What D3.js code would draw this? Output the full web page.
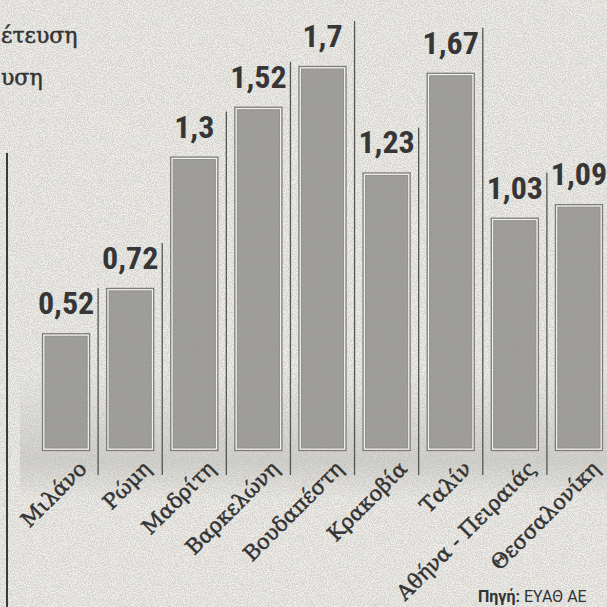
<!DOCTYPE html>
<html>
<head>
<meta charset="utf-8">
<script src="https://cdn.jsdelivr.net/npm/d3@7/dist/d3.min.js"></script>
<style>
  html, body { margin: 0; padding: 0; background: #ebeae5; }
  svg { display: block; }
</style>
</head>
<body>
<svg id="chart" width="607" height="607"></svg>
<script>
const categories = ["Μιλάνο", "Ρώμη", "Μαδρίτη", "Βαρκελώνη", "Βουδαπέστη", "Κρακοβία", "Ταλίν", "Αθήνα - Πειραιάς", "Θεσσαλονίκη"];
const values = [0.52, 0.72, 1.3, 1.52, 1.7, 1.23, 1.67, 1.03, 1.09];
const valueLabels = ["0,52", "0,72", "1,3", "1,52", "1,7", "1,23", "1,67", "1,03", "1,09"];
const titleLines = ["έτευση", "υση"];
const sourceBold = "Πηγή:";
const sourceText = " ΕΥΑΘ ΑΕ";

const W = 607, H = 607;
const svg = d3.select("#chart");
const defs = svg.append("defs");

// speckled paper texture
const f = defs.append("filter").attr("id", "speckle").attr("x", 0).attr("y", 0).attr("width", "100%").attr("height", "100%");
f.append("feTurbulence").attr("type", "fractalNoise").attr("baseFrequency", 0.95).attr("numOctaves", 1).attr("seed", 3).attr("result", "n");
f.append("feColorMatrix").attr("in", "n").attr("type", "matrix")
  .attr("values", "0 0 0 0 0.45  0 0 0 0 0.45  0 0 0 0 0.44  0 0 0 -12 6.6");
const f2 = defs.append("filter").attr("id", "grain").attr("x", 0).attr("y", 0).attr("width", "100%").attr("height", "100%");
f2.append("feTurbulence").attr("type", "fractalNoise").attr("baseFrequency", 0.8).attr("numOctaves", 2).attr("seed", 7).attr("result", "n");
f2.append("feColorMatrix").attr("in", "n").attr("type", "matrix")
  .attr("values", "0 0 0 0 0.3  0 0 0 0 0.3  0 0 0 0 0.3  0 0 0 -4 2.4");

const shade = defs.append("linearGradient").attr("id", "shade").attr("x1", 0).attr("y1", 0).attr("x2", 0).attr("y2", 1);
shade.append("stop").attr("offset", "0%").attr("stop-color", "#b8b7b2").attr("stop-opacity", 0);
shade.append("stop").attr("offset", "70%").attr("stop-color", "#b8b7b2").attr("stop-opacity", 0.5);
shade.append("stop").attr("offset", "100%").attr("stop-color", "#b8b7b2").attr("stop-opacity", 0);

svg.append("rect").attr("width", W).attr("height", H).attr("fill", "#edece7");
svg.append("rect").attr("x", 20).attr("y", 370).attr("width", W - 20).attr("height", 130).attr("fill", "url(#shade)");
svg.append("rect").attr("width", W).attr("height", H).attr("fill", "#fff").attr("filter", "url(#speckle)").attr("opacity", 0.35);

const x = d3.scaleBand().domain(categories).range([34, 611]).paddingInner(0.25).paddingOuter(0.125);
const y = d3.scaleLinear().domain([0, 1.7]).range([451, 66]);

const data = categories.map((c, i) => ({ c, v: values[i], label: valueLabels[i] }));

// left axis line
svg.append("line").attr("x1", 7).attr("x2", 7).attr("y1", 153).attr("y2", H)
  .attr("stroke", "#3a3a3a").attr("stroke-width", 2);

// separators
const step = x.step();
svg.append("g").selectAll("line").data(data.slice(0, -1)).join("line")
  .attr("x1", d => x(d.c) + x.bandwidth() + (step - x.bandwidth()) / 2)
  .attr("x2", d => x(d.c) + x.bandwidth() + (step - x.bandwidth()) / 2)
  .attr("y1", d => y(d.v) - 45)
  .attr("y2", 475)
  .attr("stroke", "#555").attr("stroke-width", 1.3);

// bars
const bars = svg.append("g").selectAll("g").data(data).join("g");
bars.append("rect")
  .attr("x", d => x(d.c) + 0.5)
  .attr("y", d => y(d.v) + 0.5)
  .attr("width", x.bandwidth() - 1)
  .attr("height", d => y(0) - y(d.v) - 1)
  .attr("fill", "#f2f1ec").attr("stroke", "#7d7c79").attr("stroke-width", 1.3);
bars.append("rect")
  .attr("x", d => x(d.c) + 3)
  .attr("y", d => y(d.v) + 3)
  .attr("width", x.bandwidth() - 6)
  .attr("height", d => y(0) - y(d.v) - 6)
  .attr("fill", "#a09f9c").attr("stroke", "#8e8d8a").attr("stroke-width", 1);
bars.append("rect")
  .attr("x", d => x(d.c) + 3)
  .attr("y", d => y(d.v) + 3)
  .attr("width", x.bandwidth() - 6)
  .attr("height", d => y(0) - y(d.v) - 6)
  .attr("fill", "#fff").attr("filter", "url(#grain)").attr("opacity", 0.45);

// value labels
svg.append("g").selectAll("text").data(data).join("text")
  .attr("x", d => x(d.c) + x.bandwidth() / 2)
  .attr("y", d => y(d.v) - 19)
  .attr("text-anchor", "middle")
  .attr("font-family", "'Liberation Sans Narrow', 'Roboto Condensed', Roboto, sans-serif")
  .attr("font-weight", 700)
  .attr("font-size", 32)
  .attr("fill", "#363636")
  .text(d => d.label);

// category labels
svg.append("g").selectAll("text").data(data).join("text")
  .attr("transform", d => `translate(${x(d.c) + x.bandwidth() / 2 + 22},470) rotate(-45)`)
  .attr("text-anchor", "end")
  .attr("font-family", "'DejaVu Serif', serif")
  .attr("font-size", 21)
  .attr("fill", "#333")
  .attr("stroke", "#333").attr("stroke-width", 0.5)
  .text(d => d.c);

// title fragments (partly cropped in the original)
svg.append("text").attr("x", 1).attr("y", 43)
  .attr("font-family", "'DejaVu Serif', serif").attr("font-size", 22).attr("fill", "#333")
  .attr("stroke", "#333").attr("stroke-width", 0.5)
  .text(titleLines[0]);
svg.append("text").attr("x", 1).attr("y", 85)
  .attr("font-family", "'DejaVu Serif', serif").attr("font-size", 22).attr("fill", "#333")
  .attr("stroke", "#333").attr("stroke-width", 0.5)
  .text(titleLines[1]);

// source
const src = svg.append("text").attr("x", 478).attr("y", 602)
  .attr("font-family", "'Liberation Sans Narrow', Roboto, sans-serif").attr("font-size", 16).attr("fill", "#333");
src.append("tspan").attr("font-weight", 700).text(sourceBold);
src.append("tspan").text(sourceText);
</script>
</body>
</html>
